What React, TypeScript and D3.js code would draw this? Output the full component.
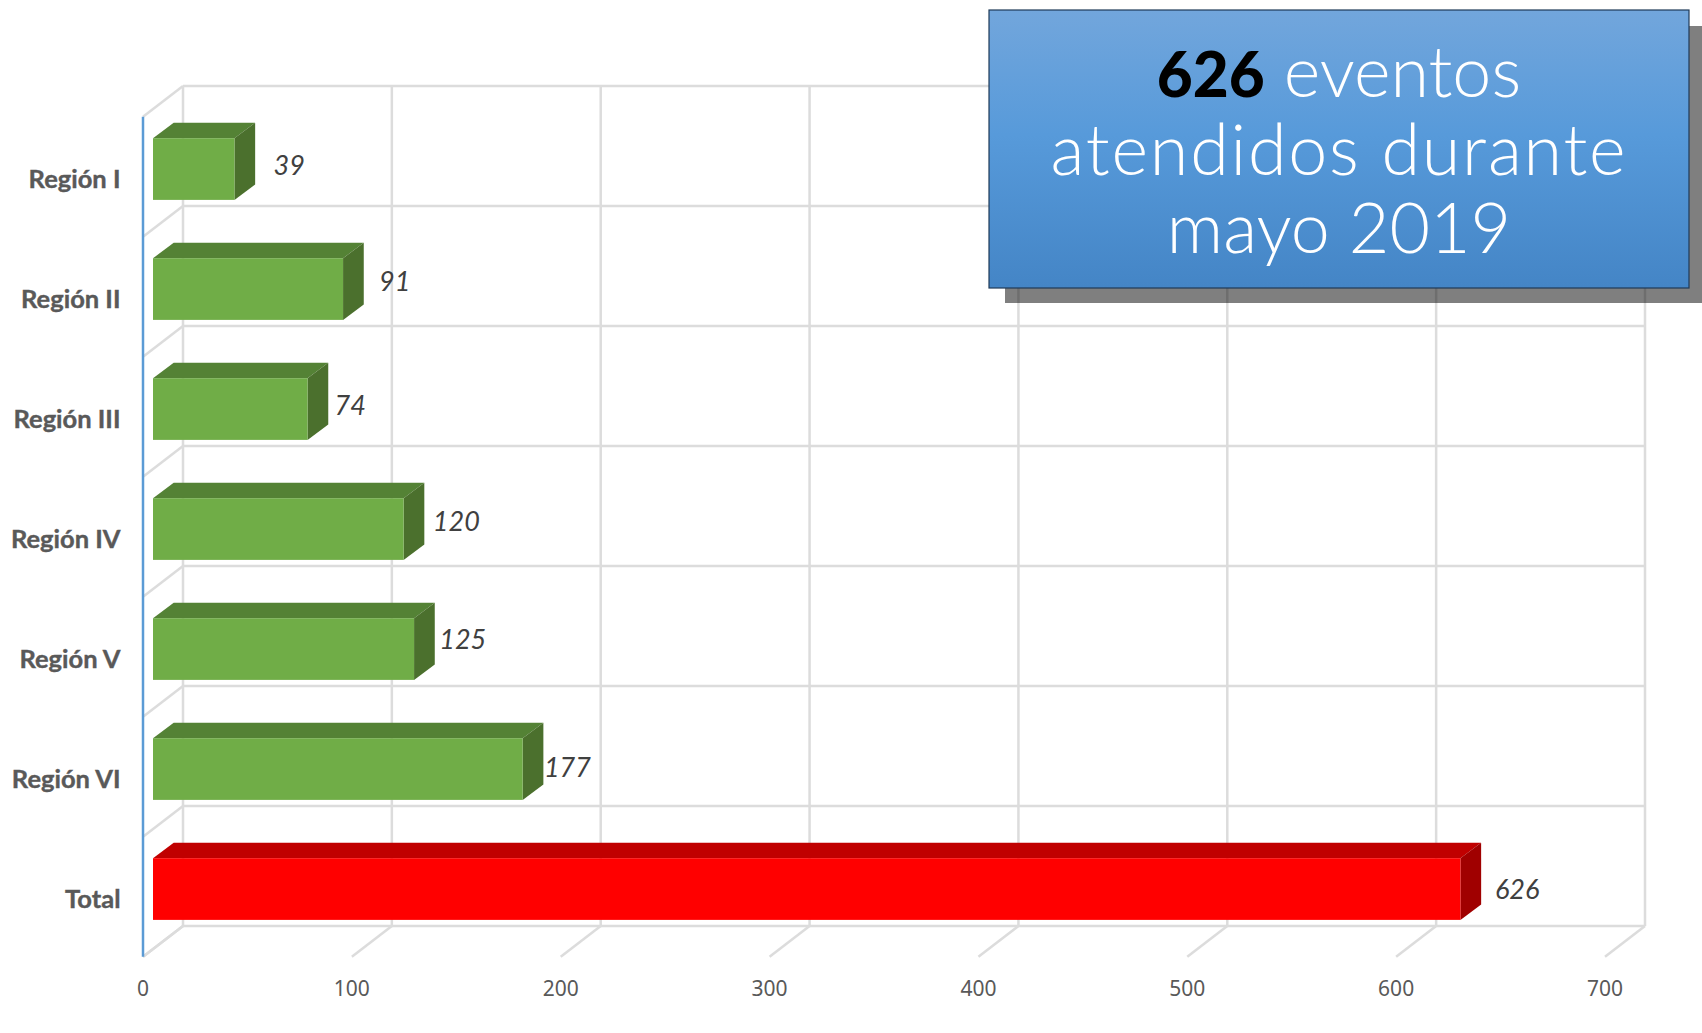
import { useEffect, useRef } from 'react';
import * as d3 from 'd3';

const categories = ['Región I', 'Región II', 'Región III', 'Región IV', 'Región V', 'Región VI', 'Total'];
const values = [39, 91, 74, 120, 125, 177, 626];
const xTicks = [0, 100, 200, 300, 400, 500, 600, 700];
const titleLines = ['eventos', 'atendidos durante', 'mayo 2019'];
const titleTotal = '626';

// where the value labels sit, they were placed by hand in the original
const labelNudgeX = [34, 31, 22, 32, 28, 24, 36];
const labelNudgeY = [-5, -9, -5, -9, -11, -3, -1];

const width = 1702;
const height = 1033;
const depthX = 40;
const depthY = 30.6;
const barDepthX = 20.7;
const barDepthY = 15.5;

export default function App() {
  const ref = useRef<SVGSVGElement>(null);

  useEffect(() => {
    const svg = d3.select(ref.current);
    svg.selectAll('*').remove();

    const x = d3.scaleLinear().domain([0, 700]).range([143, 1605]);
    const y = d3
      .scaleBand()
      .domain(categories)
      .range([116.7, 956.7])
      .paddingInner(0.486)
      .paddingOuter(0.243);
    const step = y.step();
    const top = y.range()[0];
    const bottom = y.range()[1];
    const rows = d3.range(categories.length + 1).map(i => top + i * step);

    const defs = svg.append('defs');
    const grad = defs
      .append('linearGradient')
      .attr('id', 'boxFill')
      .attr('x1', 0)
      .attr('y1', 0)
      .attr('x2', 0)
      .attr('y2', 1);
    grad.append('stop').attr('offset', '0%').attr('stop-color', '#72a6dc');
    grad.append('stop').attr('offset', '45%').attr('stop-color', '#579ada');
    grad.append('stop').attr('offset', '100%').attr('stop-color', '#4485c6');

    // back wall and floor
    const grid = svg
      .append('g')
      .attr('stroke', '#dcdcdc')
      .attr('stroke-width', 2.5)
      .attr('fill', 'none');
    grid
      .selectAll('line.v')
      .data(xTicks)
      .enter()
      .append('line')
      .attr('class', 'v')
      .attr('x1', d => x(d) + depthX)
      .attr('x2', d => x(d) + depthX)
      .attr('y1', top - depthY)
      .attr('y2', bottom - depthY);
    grid
      .selectAll('line.floor')
      .data(xTicks)
      .enter()
      .append('line')
      .attr('class', 'floor')
      .attr('x1', d => x(d))
      .attr('x2', d => x(d) + depthX)
      .attr('y1', bottom)
      .attr('y2', bottom - depthY);
    grid
      .selectAll('line.h')
      .data(rows)
      .enter()
      .append('line')
      .attr('class', 'h')
      .attr('x1', x(0) + depthX)
      .attr('x2', x(700) + depthX)
      .attr('y1', d => d - depthY)
      .attr('y2', d => d - depthY);
    grid
      .selectAll('line.wall')
      .data(rows)
      .enter()
      .append('line')
      .attr('class', 'wall')
      .attr('x1', x(0))
      .attr('x2', x(0) + depthX)
      .attr('y1', d => d)
      .attr('y2', d => d - depthY);

    svg
      .append('line')
      .attr('x1', x(0))
      .attr('x2', x(0))
      .attr('y1', top)
      .attr('y2', bottom)
      .attr('stroke', '#5b9bd5')
      .attr('stroke-width', 2.5);

    // bars, the front face starts a quarter of the way into the depth
    const barLeft = x(0) + depthX / 4;
    const barShift = depthY / 4;
    const bars = svg
      .selectAll('g.bar')
      .data(categories.map((c, i) => ({ c, v: values[i], total: c === 'Total' })))
      .enter()
      .append('g')
      .attr('class', 'bar');
    const barX = d => x(d.v) + depthX / 4;
    const barY = d => y(d.c) - barShift;
    bars
      .append('path')
      .attr('fill', d => (d.total ? '#c00000' : '#548235'))
      .attr('d', d => {
        const p = d3.path();
        p.moveTo(barLeft, barY(d));
        p.lineTo(barLeft + barDepthX, barY(d) - barDepthY);
        p.lineTo(barX(d) + barDepthX, barY(d) - barDepthY);
        p.lineTo(barX(d), barY(d));
        p.closePath();
        return p.toString();
      });
    bars
      .append('path')
      .attr('fill', d => (d.total ? '#a00000' : '#4b702d'))
      .attr('d', d => {
        const p = d3.path();
        p.moveTo(barX(d), barY(d));
        p.lineTo(barX(d) + barDepthX, barY(d) - barDepthY);
        p.lineTo(barX(d) + barDepthX, barY(d) + y.bandwidth() - barDepthY);
        p.lineTo(barX(d), barY(d) + y.bandwidth());
        p.closePath();
        return p.toString();
      });
    bars
      .append('rect')
      .attr('x', barLeft)
      .attr('y', barY)
      .attr('width', d => barX(d) - barLeft)
      .attr('height', y.bandwidth())
      .attr('fill', d => (d.total ? '#ff0000' : '#70ad47'));

    bars
      .append('text')
      .text(d => d.v)
      .attr('x', (d, i) => barX(d) + barDepthX + labelNudgeX[i])
      .attr('y', (d, i) => y(d.c) + y.bandwidth() / 2 - barShift + labelNudgeY[i])
      .attr('text-anchor', 'middle')
      .attr('dominant-baseline', 'central')
      .style('font-family', 'Lato')
      .style('font-style', 'italic')
      .style('font-size', '27px')
      .attr('fill', '#404040');

    svg
      .selectAll('text.cat')
      .data(categories)
      .enter()
      .append('text')
      .attr('class', 'cat')
      .text(d => d)
      .attr('x', 120.5)
      .attr('y', d => y(d) + y.bandwidth() / 2 + 11)
      .attr('text-anchor', 'end')
      .style('font-family', 'Lato')
      .style('font-weight', 700)
      .style('font-size', '25.5px')
      .style('stroke', '#595959')
      .style('stroke-width', 0.4)
      .attr('fill', '#595959');

    svg
      .selectAll('text.tick')
      .data(xTicks)
      .enter()
      .append('text')
      .attr('class', 'tick')
      .text(d => d)
      .attr('x', d => x(d))
      .attr('y', 996)
      .attr('text-anchor', 'middle')
      .style('font-family', 'Noto Sans')
      .style('font-size', '21px')
      .attr('fill', '#595959');

    // callout box on top of the chart
    svg
      .append('rect')
      .attr('x', 1005)
      .attr('y', 26)
      .attr('width', 700)
      .attr('height', 277)
      .attr('fill', '#000')
      .attr('fill-opacity', 0.5);
    svg
      .append('rect')
      .attr('x', 989)
      .attr('y', 10)
      .attr('width', 700)
      .attr('height', 278)
      .attr('fill', 'url(#boxFill)')
      .attr('stroke', '#1f3a58')
      .attr('stroke-width', 1.2);

    const title = svg
      .append('text')
      .attr('text-anchor', 'middle')
      .style('font-family', 'Lato')
      .style('font-weight', 300)
      .style('font-size', '70px')
      .attr('fill', '#fff');
    const first = title.append('tspan').attr('x', 1339).attr('y', 97);
    first
      .append('tspan')
      .text(titleTotal)
      .attr('fill', '#000')
      .style('font-weight', 900)
      .style('font-size', '62px');
    first.append('tspan').text(' ' + titleLines[0]);
    title
      .append('tspan')
      .attr('x', 1339)
      .attr('y', 175)
      .style('letter-spacing', '1.8px')
      .text(titleLines[1]);
    title.append('tspan').attr('x', 1339).attr('y', 253).text(titleLines[2]);
  }, []);

  return (
    <svg
      ref={ref}
      width={width}
      height={height}
      style={{ position: 'absolute', left: 0, top: 0, display: 'block', background: '#fff' }}
    />
  );
}
